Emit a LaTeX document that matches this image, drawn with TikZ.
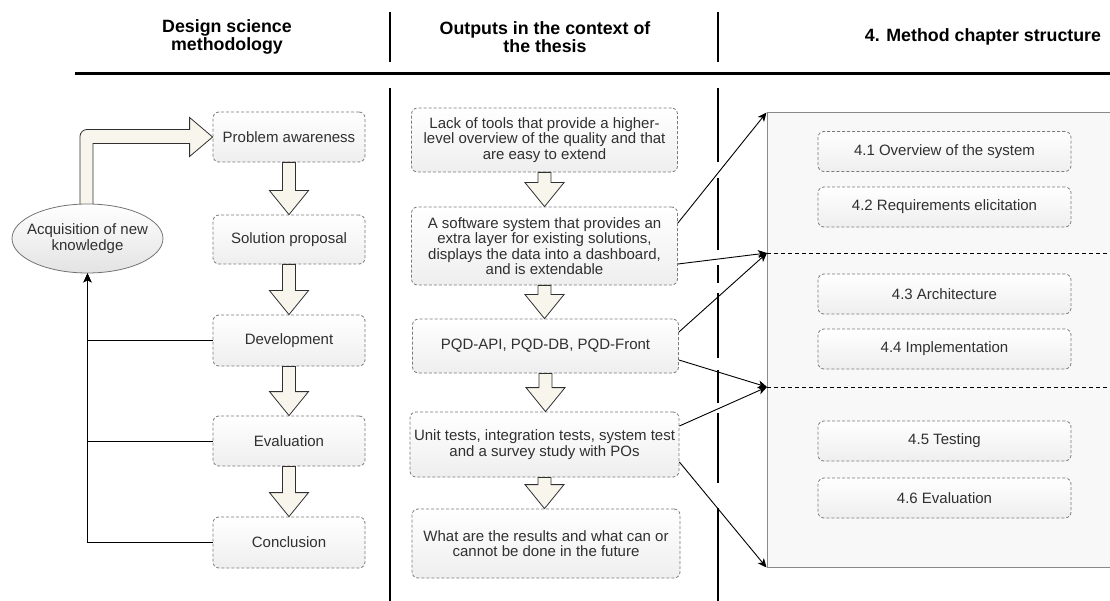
\documentclass[tikz,border=0pt]{standalone}
\usepackage{fontspec}
\setmainfont{Liberation Sans}
\usetikzlibrary{arrows.meta,shapes.geometric,calc}

\definecolor{txt}{HTML}{303030}
\definecolor{boxline}{HTML}{7A7A7A}
\definecolor{cream}{HTML}{F7F5EC}
\definecolor{pane}{HTML}{F8F8F8}
\definecolor{paneline}{HTML}{8A8A8A}

\tikzset{
  x=1pt, y=1pt,
  body/.style={font=\fontsize{15}{15.5}\selectfont, text=txt},
  head/.style={font=\bfseries\fontsize{17.8}{18.5}\selectfont, align=center},
  stepbox/.style={body, draw=boxline, dash pattern=on 3pt off 2pt, line width=0.8pt,
    rounded corners=6pt, top color=white, bottom color=gray!13, align=center, inner sep=0pt},
  leftbox/.style={stepbox, minimum width=152pt},
  outbox/.style={stepbox, minimum width=266pt},
  secbox/.style={stepbox, minimum width=253pt, minimum height=40pt},
  knowledge/.style={ellipse, draw=gray!90!black, line width=0.8pt,
    top color=white, bottom color=gray!22, minimum width=151pt, minimum height=69pt, inner sep=0pt},
  blockarrow/.style={fill=cream, draw=txt, line width=0.8pt, line join=miter},
  conn/.style={draw=black, line width=0.9pt, -{Stealth[length=9pt,width=8pt,inset=2.5pt]}},
  rule/.style={line width=2pt, draw=black},
  divider/.style={draw=black, line width=0.9pt, dash pattern=on 4pt off 3pt},
}

% hollow downward block arrow between two stacked nodes
\newcommand{\blockdown}[2]{%
  \path let \p1=(#1.south), \p2=(#2.north) in
    [blockarrow] (\x1-6.5pt,\y1) -- (\x1+6.5pt,\y1) -- (\x1+6.5pt,\y2+24pt)
    -- (\x1+19.5pt,\y2+24pt) -- (\x1,\y2) -- (\x1-19.5pt,\y2+24pt)
    -- (\x1-6.5pt,\y2+24pt) -- cycle;}

\begin{document}
\begin{tikzpicture}
\useasboundingbox (0,0) rectangle (1110,-601);

% ---------- column headings ----------
\node[head] (h1) at (227,-37) {Design science\\methodology};
\node[head] (h2) at (545,-37) {Outputs in the context of\\the thesis};
\node[head] (h3) at (983,-37) {4. Method chapter structure};
\draw[rule] (390,-12) -- (390,-62);
\draw[rule] (718,-12) -- (718,-62);
\draw[line width=3pt] (75,-74) -- (1110,-74);

% column separators
\draw[rule] (390,-88) -- (390,-601);
\foreach \a/\b in {88/162,178/250,265/283,293/358,370/403,413/483,508/601}
  \draw[rule] (718,-\a) -- (718,-\b);

% ---------- design science cycle ----------
\node[leftbox, minimum height=50pt] (pa)  at (289,-137)   {Problem awareness};
\node[leftbox, minimum height=49pt] (sp)  at (289,-239.5) {Solution proposal};
\node[leftbox, minimum height=51pt] (dev) at (289,-340.5) {Development};
\node[leftbox, minimum height=50pt] (ev)  at (289,-441)   {Evaluation};
\node[leftbox, minimum height=51pt] (con) at (289,-542.5) {Conclusion};

\blockdown{pa}{sp}
\blockdown{sp}{dev}
\blockdown{dev}{ev}
\blockdown{ev}{con}

% bent arrow from the knowledge ellipse back into the cycle
\path let \p1=(87.5,-205), \p2=(pa.west) in
  [blockarrow] (\x1-7.5pt,\y1) -- (\x1-7.5pt,\y2+0.5pt)
  to[out=90,in=180] (\x1-0.5pt,\y2+7.5pt) -- (\x2-23pt,\y2+7.5pt)
  -- (\x2-23pt,\y2+19.5pt) -- (\x2,\y2) -- (\x2-23pt,\y2-19.5pt)
  -- (\x2-23pt,\y2-6.5pt) -- (\x1+5.5pt,\y2-6.5pt) -- (\x1+5.5pt,\y1) -- cycle;

\node[knowledge] (acq) at (87.5,-238.5) {};
\node[body, align=center] (acqtext) at (acq.center) {Acquisition of new\\knowledge};

\draw[conn] (dev.west) -| (acq.south);
\draw[conn] (ev.west) -| (acq.south);
\draw[conn] (con.west) -| (acq.south);

% ---------- thesis outputs ----------
\node[outbox, minimum height=64pt] (o1) at (544.5,-140) {Lack of tools that provide a higher-\\level overview of the quality and that\\are easy to extend};
\node[outbox, minimum height=78pt] (o2) at (544.5,-246) {A software system that provides an\\extra layer for existing solutions,\\displays the data into a dashboard,\\and is extendable};
\node[outbox, minimum height=54pt] (o3) at (545.5,-346) {PQD-API, PQD-DB, PQD-Front};
\node[outbox, minimum height=65pt, minimum width=269pt] (o4) at (544.5,-444.5) {Unit tests, integration tests, system test\\and a survey study with POs};
\node[outbox, minimum height=69pt, minimum width=268pt] (o5) at (546,-543.5) {What are the results and what can or\\cannot be done in the future};

\blockdown{o1}{o2}
\blockdown{o2}{o3}
\blockdown{o3}{o4}
\blockdown{o4}{o5}

% ---------- chapter structure ----------
\node[draw=paneline, fill=pane, line width=1pt, minimum width=344pt, minimum height=454pt,
      inner sep=0pt] (chap) at (939,-340) {};
\coordinate (cA) at (chap.north west);
\coordinate (cB) at (767,-253);
\coordinate (cC) at (767,-387);
\coordinate (cD) at (chap.south west);
\coordinate (eB) at (1110,-253);
\coordinate (eC) at (1110,-387);
\draw[divider] (cB) -- (eB);
\draw[divider] (cC) -- (eC);

\node[secbox] (s1) at (944.5,-151.5) {4.1 Overview of the system};
\node[secbox] (s2) at (944.5,-207)   {4.2 Requirements elicitation};
\node[secbox] (s3) at (944.5,-294)   {4.3 Architecture};
\node[secbox] (s4) at (944.5,-349)   {4.4 Implementation};
\node[secbox] (s5) at (944.5,-441)   {4.5 Testing};
\node[secbox] (s6) at (944.5,-498)   {4.6 Evaluation};

% ---------- outputs mapped onto the chapter sections ----------
\draw[conn] ($(o2.east)+(0,23)$) -- (cA);
\draw[conn] ($(o2.east)+(0,-18)$) -- (cB);
\draw[conn] ($(o3.east)+(0,14)$) -- (cB);
\draw[conn] ($(o3.east)+(0,-14)$) -- (cC);
\draw[conn] ($(o4.east)+(0,18.5)$) -- (cC);
\draw[conn] ($(o4.east)+(0,-17.5)$) -- (cD);
\end{tikzpicture}
\end{document}
